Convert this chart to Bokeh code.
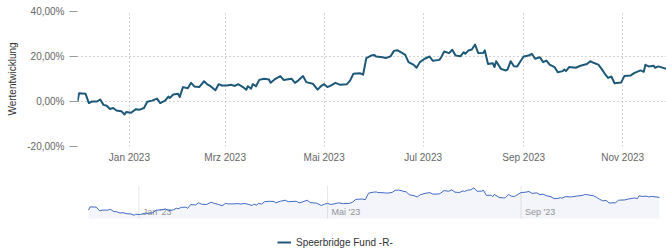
import pandas as pd
from bokeh.plotting import figure
from bokeh.models import ColumnDataSource, FixedTicker, Range1d, Legend, LegendItem
from bokeh.layouts import column
from bokeh.embed import file_html
from bokeh.resources import INLINE
from bokeh.core.properties import value

# ---------------- data ----------------
series_name = "Speerbridge Fund -R-"
y_axis_title = "Wertentwicklung"

dates = [
    "2022-11-30", "2022-12-01", "2022-12-05", "2022-12-07", "2022-12-09", "2022-12-12", "2022-12-14",
    "2022-12-16", "2022-12-18", "2022-12-20", "2022-12-22", "2022-12-24", "2022-12-27", "2022-12-29",
    "2022-12-30", "2023-01-02", "2023-01-05", "2023-01-07", "2023-01-10", "2023-01-12", "2023-01-15",
    "2023-01-18", "2023-01-20", "2023-01-23", "2023-01-25", "2023-01-26", "2023-01-28", "2023-01-31",
    "2023-02-01", "2023-02-03", "2023-02-06", "2023-02-08", "2023-02-10", "2023-02-13", "2023-02-16",
    "2023-02-18", "2023-02-20", "2023-02-23", "2023-02-25", "2023-02-27", "2023-03-02", "2023-03-05",
    "2023-03-07", "2023-03-09", "2023-03-12", "2023-03-14", "2023-03-15", "2023-03-17", "2023-03-18",
    "2023-03-20", "2023-03-22", "2023-03-25", "2023-03-28", "2023-03-29", "2023-04-01", "2023-04-04",
    "2023-04-06", "2023-04-11", "2023-04-13", "2023-04-15", "2023-04-18", "2023-04-20", "2023-04-24",
    "2023-04-27", "2023-04-29", "2023-05-01", "2023-05-03", "2023-05-05", "2023-05-08", "2023-05-11",
    "2023-05-15", "2023-05-17", "2023-05-19", "2023-05-23", "2023-05-25", "2023-05-27", "2023-05-30",
    "2023-06-01", "2023-06-02", "2023-06-06", "2023-06-08", "2023-06-11", "2023-06-13", "2023-06-15",
    "2023-06-18", "2023-06-20", "2023-06-22", "2023-06-25", "2023-06-27", "2023-06-29", "2023-07-02",
    "2023-07-05", "2023-07-07", "2023-07-11", "2023-07-12", "2023-07-14", "2023-07-17", "2023-07-19",
    "2023-07-21", "2023-07-24", "2023-07-26", "2023-07-27", "2023-07-29", "2023-07-31", "2023-08-02",
    "2023-08-04", "2023-08-07", "2023-08-08", "2023-08-10", "2023-08-13", "2023-08-14", "2023-08-15",
    "2023-08-18", "2023-08-21", "2023-08-22", "2023-08-24", "2023-08-26", "2023-08-28", "2023-08-30",
    "2023-09-01", "2023-09-04", "2023-09-06", "2023-09-08", "2023-09-11", "2023-09-13", "2023-09-15",
    "2023-09-17", "2023-09-20", "2023-09-22", "2023-09-25", "2023-09-26", "2023-09-27", "2023-09-29",
    "2023-10-03", "2023-10-06", "2023-10-10", "2023-10-12", "2023-10-14", "2023-10-17", "2023-10-19",
    "2023-10-21", "2023-10-23", "2023-10-25", "2023-10-27", "2023-10-31", "2023-11-02", "2023-11-06",
    "2023-11-08", "2023-11-12", "2023-11-14", "2023-11-15", "2023-11-17", "2023-11-20", "2023-11-21",
    "2023-11-23", "2023-11-28",
]
values = [
    0.0, 3.7, 3.4, -0.7, 0.0, 0.0, 0.9,
    -1.5, -1.9, -3.3, -2.9, -4.0, -4.3, -5.8,
    -4.7, -5.0, -3.4, -3.7, -2.9, -0.1, 0.4,
    1.3, -0.7, 0.4, 2.2, 1.6, 3.1, 3.4,
    2.0, 6.4, 5.9, 8.3, 6.7, 6.4, 9.0,
    7.6, 6.8, 5.0, 7.7, 7.1, 7.1, 7.4,
    6.9, 7.7, 6.4, 5.2, 6.8, 5.7, 7.7,
    6.8, 9.6, 10.1, 9.8, 8.3, 10.1, 11.3,
    9.6, 10.1, 8.3, 9.3, 11.3, 8.6, 7.9,
    5.3, 6.8, 7.7, 6.4, 7.1, 8.3, 7.4,
    7.7, 9.3, 12.3, 12.6, 11.9, 19.3, 20.4,
    20.7, 20.0, 19.7, 19.3, 20.1, 22.5, 22.8,
    21.6, 20.7, 17.5, 16.4, 15.0, 17.5, 19.0,
    20.0, 18.1, 18.5, 19.5, 22.2, 21.5, 23.0,
    20.4, 20.1, 21.9, 21.2, 22.7, 23.1, 25.3,
    21.5, 21.6, 22.7, 16.7, 17.0, 15.3, 17.9,
    14.5, 13.8, 14.2, 17.9, 15.7, 15.6, 17.9,
    20.0, 20.4, 21.2, 19.0, 19.7, 17.5, 18.2,
    16.4, 15.3, 13.0, 13.5, 14.2, 13.5, 15.3,
    15.0, 15.9, 16.7, 17.9, 17.2, 16.4, 14.5,
    12.3, 10.5, 11.1, 8.1, 8.4, 11.3, 11.6,
    12.6, 13.8, 13.2, 16.3, 15.6, 15.9, 15.0,
    15.6, 14.5,
]

y_ticks = [-20, 0, 20, 40]
y_tick_labels = ["-20,00%", "0,00%", "20,00%", "40,00%"]
x_tick_dates = ["2023-01-01", "2023-03-01", "2023-05-01", "2023-07-01", "2023-09-01", "2023-11-01"]
x_tick_labels = ["Jan 2023", "Mrz 2023", "Mai 2023", "Jul 2023", "Sep 2023", "Nov 2023"]
nav_tick_dates = ["2023-01-01", "2023-05-01", "2023-09-01"]
nav_tick_labels = ["Jan '23", "Mai '23", "Sep '23"]

# ---------------- style / layout ----------------
FONT = "Liberation Sans"
LINE = "#1c5878"
NAV_LINE = "#4169c4"
W = 666
FRAME_LEFT = 77
NAV_PAD_L, NAV_PAD_R = 11, 7      # navigator band inset inside the frame (px)
NAV_BOTTOM, NAV_TOP = -9.5, 28    # navigator value band
NAV_BAND_PX, NAV_FRAME_PX = 33, 63


def ms(d):
    return int(pd.Timestamp(d).value // 10**6)


def no_align(fig):
    if "frame_align" in fig.properties():
        fig.frame_align = False


x_dt = pd.to_datetime(dates)
src = ColumnDataSource(dict(x=x_dt, y=values))

x_tick_ms = [ms(d) for d in x_tick_dates]
start = pd.Timestamp(dates[0])
end = pd.Timestamp(dates[-1])

# ---------------- main chart ----------------
p = figure(width=W, height=165, x_axis_type="datetime", output_backend="svg",
           toolbar_location=None, tools="",
           x_range=Range1d(start, end),
           y_range=Range1d(-20, 40),
           min_border_left=FRAME_LEFT, min_border_right=0, min_border_top=11, min_border_bottom=19)
no_align(p)
p.outline_line_color = None
p.background_fill_color = "white"
p.border_fill_color = "white"

ya = p.yaxis[0]
ya.ticker = FixedTicker(ticks=y_ticks)
ya.major_label_overrides = {t: l for t, l in zip(y_ticks, y_tick_labels)}
ya.axis_label = y_axis_title
ya.axis_label_text_font = FONT
ya.axis_label_text_font_size = "10px"
ya.axis_label_text_font_style = "normal"
ya.axis_label_text_color = "#333333"
ya.axis_label_standoff = 6
ya.major_label_text_font = FONT
ya.major_label_text_font_size = "10px"
ya.major_label_text_color = "#666666"
ya.major_label_standoff = 5
ya.major_tick_out = 8
ya.major_tick_in = 0
ya.major_tick_line_color = "#999999"
ya.minor_tick_line_color = None
ya.axis_line_color = None

xa = p.xaxis[0]
xa.ticker = FixedTicker(ticks=x_tick_ms)
xa.major_label_overrides = {t: l for t, l in zip(x_tick_ms, x_tick_labels)}
xa.major_label_text_font = FONT
xa.major_label_text_font_size = "10px"
xa.major_label_text_color = "#666666"
xa.major_label_standoff = 5
xa.major_tick_out = 0
xa.major_tick_in = 0
xa.major_tick_line_color = None
xa.minor_tick_line_color = None
xa.axis_line_color = None

for g in (p.xgrid, p.ygrid):
    g.grid_line_color = "#a8a8a8"
    g.grid_line_dash = "1 3"
    g.grid_line_width = 1

p.line("x", "y", source=src, color=LINE, line_width=2, line_join="round")

# ---------------- navigator + legend ----------------
frame_w = W - FRAME_LEFT
px_per_day = (frame_w - NAV_PAD_L - NAV_PAD_R) / ((end - start) / pd.Timedelta(days=1))
nav_start = start - pd.Timedelta(days=NAV_PAD_L / px_per_day)
nav_end = end + pd.Timedelta(days=NAV_PAD_R / px_per_day)
nav_ymin = NAV_TOP - (NAV_TOP - NAV_BOTTOM) * NAV_FRAME_PX / NAV_BAND_PX

nav = figure(width=W, height=83, x_axis_type="datetime", output_backend="svg",
             toolbar_location=None, tools="",
             x_axis_location=None, y_axis_location=None,
             x_range=Range1d(nav_start, nav_end),
             y_range=Range1d(nav_ymin, NAV_TOP),
             min_border_left=FRAME_LEFT, min_border_right=0, min_border_top=20, min_border_bottom=0)
no_align(nav)
nav.outline_line_color = None
nav.border_fill_color = "white"
nav.background_fill_color = "white"
for g in nav.grid:
    g.visible = False

nav_dt = pd.to_datetime(nav_tick_dates)
nav.segment(x0=nav_dt, y0=NAV_BOTTOM, x1=nav_dt, y1=NAV_TOP, line_color="#e6e6e6", line_width=1)
nav.text(x=nav_dt, y=[-2.3] * len(nav_tick_dates), text=nav_tick_labels,
         text_font=value(FONT), text_font_size="9px", text_color="#999999",
         text_baseline="middle", text_align="left", x_offset=4)
nav.varea(x="x", y1=NAV_BOTTOM, y2="y", source=src, fill_color="#335cad", fill_alpha=0.06)
nav.line("x", "y", source=src, color=NAV_LINE, line_width=1)

# legend sample: the same series on a hidden range (clipped away), only used by the legend
nav.extra_y_ranges = {"hidden": Range1d(1000, 1001)}
lr = nav.line("x", "y", source=src, y_range_name="hidden", color=LINE, line_width=2)
legend = Legend(items=[LegendItem(label=series_name, renderers=[lr])],
                location=(200, 0), orientation="horizontal",
                border_line_color=None, background_fill_alpha=0,
                label_text_font=FONT, label_text_font_size="10px", label_text_color="#333333",
                glyph_width=14, glyph_height=12, label_height=12, label_standoff=5,
                padding=2, margin=0, spacing=0)
nav.add_layout(legend)

layout = column(p, nav, spacing=0)

open("out.html", "w").write(file_html(layout, INLINE))
